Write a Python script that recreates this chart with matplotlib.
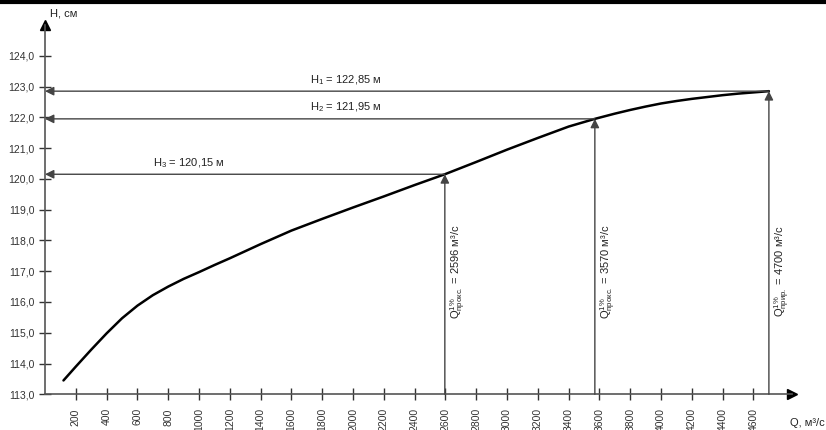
import matplotlib.pyplot as plt
from matplotlib.lines import Line2D

plt.rcParams['font.family'] = ['Liberation Sans', 'DejaVu Sans']
plt.rcParams['mathtext.fontset'] = 'custom'
plt.rcParams['mathtext.rm'] = 'Liberation Sans'
plt.rcParams['mathtext.it'] = 'Liberation Sans'

# rating curve H(Q)
q_values = [120, 200, 300, 400, 500, 600, 700, 800, 900, 1000, 1100, 1200, 1300,
            1400, 1500, 1600, 1800, 2000, 2200, 2400, 2596, 2800, 3000, 3200,
            3400, 3570, 3700, 3800, 3900, 4000, 4100, 4200, 4300, 4400, 4500,
            4600, 4700]
h_values = [113.45, 113.9, 114.45, 114.98, 115.47, 115.88, 116.22, 116.5, 116.75,
            116.97, 117.2, 117.42, 117.65, 117.88, 118.1, 118.32, 118.7, 119.07,
            119.43, 119.8, 120.15, 120.55, 120.95, 121.33, 121.7, 121.95, 122.12,
            122.24, 122.35, 122.45, 122.53, 122.6, 122.66, 122.72, 122.77, 122.81,
            122.85]

# design discharges and corresponding levels
design_q = [4700, 3570, 2596]
design_h = [122.85, 121.95, 120.15]
h_labels = [r'$\mathregular{H_1}$ = 122,85 м', r'$\mathregular{H_2}$ = 121,95 м',
            r'$\mathregular{H_3}$ = 120,15 м']
q_labels = [r'$\mathregular{Q^{1\%}_{прир.}}$ = 4700 м³/с',
            r'$\mathregular{Q^{1\%}_{прокс.}}$ = 3570 м³/с',
            r'$\mathregular{Q^{1\%}_{прокс.}}$ = 2596 м³/с']
h_label_x = [1720, 1720, 700]

x_ticks = list(range(200, 4700, 200))
y_ticks = list(range(113, 125))

W, H = 826, 430
fig = plt.figure(figsize=(W / 100, H / 100), dpi=100)
x0, y0, x1, y1 = 45, 394.3, 792, 25
ax = fig.add_axes([x0 / W, 1 - y0 / H, (x1 - x0) / W, (y0 - y1) / H])
ax.set_xlim(0, 4850)
ax.set_ylim(113, 125)

for s in ['top', 'right']:
    ax.spines[s].set_visible(False)
for s in ['left', 'bottom']:
    ax.spines[s].set_color('#555555')
    ax.spines[s].set_linewidth(1.2)

# axis arrowheads
ax.plot(1, 0, '>', color='black', markersize=7, transform=ax.transAxes, clip_on=False)
ax.plot(0, 1, '^', color='black', markersize=7, transform=ax.transAxes, clip_on=False)

ax.set_xticks(x_ticks)
ax.set_xticklabels([str(v) for v in x_ticks], rotation=90)
ax.set_yticks(y_ticks)
ax.set_yticklabels([f'{v},0' for v in y_ticks])
ax.tick_params(direction='inout', length=8, width=1, color='#333333',
               labelsize=7.5, labelcolor='#333333')
ax.tick_params(axis='x', pad=6)

ax.plot(q_values, h_values, color='black', lw=1.8, solid_capstyle='round',
        solid_joinstyle='round')

arrow = dict(arrowstyle='-|>', color='#444444', lw=1, mutation_scale=13,
             shrinkA=0, shrinkB=0)
for q, h, hl, ql, lx in zip(design_q, design_h, h_labels, q_labels, h_label_x):
    ax.annotate('', xy=(0, h), xytext=(q, h), arrowprops=arrow)
    ax.annotate('', xy=(q, h), xytext=(q, 113), arrowprops=arrow)
    ax.text(lx, h + 0.15, hl, fontsize=8, color='#222222', va='bottom')
    ax.text(q + 85, 117.0, ql, rotation=90, fontsize=8, color='#222222',
            ha='center', va='center')

fig.text(50 / W, 1 - 13 / H, 'H, см', fontsize=8, color='#222222', va='center')
fig.text(790 / W, 1 - 423 / H, 'Q, м³/с', fontsize=8, color='#222222', va='center')

# heavy rule along the top edge
fig.add_artist(Line2D([0, 1], [1 - 2 / H, 1 - 2 / H], color='black', lw=3,
                      transform=fig.transFigure))

fig.savefig('out.png', dpi=100)
